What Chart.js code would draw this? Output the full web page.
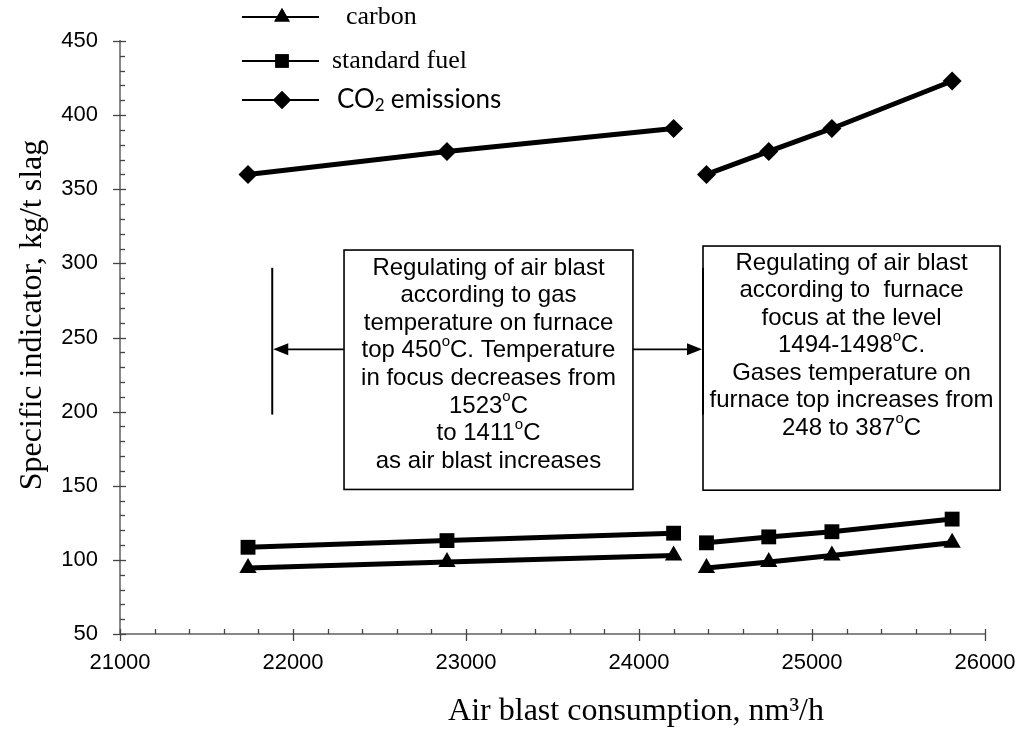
<!DOCTYPE html>
<html>
<head>
<meta charset="utf-8">
<script src="https://cdn.jsdelivr.net/npm/chart.js@4/dist/chart.umd.min.js"></script>
<style>
  html, body { margin: 0; padding: 0; background: #fff; }
  #wrap { width: 1020px; height: 747px; }
</style>
</head>
<body>
<div id="wrap"><canvas id="c" width="1020" height="747"></canvas></div>
<script>
// ---- data ----
const regime1X = [21740, 22890, 24200];
const regime2X = [24390, 24750, 25115, 25810];
const carbon1 = [94.5, 98.5, 103];
const carbon2 = [94.5, 98.5, 103, 111.5];
const fuel1 = [108.5, 113, 118];
const fuel2 = [111.5, 115.5, 119, 127.5];
const co21 = [360, 375.5, 391];
const co22 = [360, 375.5, 391, 423];
const seriesNames = ['carbon', 'standard fuel', 'CO2 emissions'];
const xTicks = [21000, 22000, 23000, 24000, 25000, 26000];
const yTicks = [50, 100, 150, 200, 250, 300, 350, 400, 450];
const leftBoxLines = [
  'Regulating of air blast',
  'according to gas',
  'temperature on furnace',
  'top 450^oC. Temperature',
  'in focus decreases from',
  '1523^oC',
  'to 1411^oC',
  'as air blast increases'
];
const rightBoxLines = [
  'Regulating of air blast',
  'according to  furnace',
  'focus at the level',
  '1494-1498^oC.',
  'Gases temperature on',
  'furnace top increases from',
  '248 to 387^oC'
];

const styles = [
  { pointStyle: 'triangle', radius: 10 },
  { pointStyle: 'rect', radius: 10.5 },
  { pointStyle: 'rectRot', radius: 9.5 }
];

function pts(xs, ys) { return xs.map((x, i) => ({ x: x, y: ys[i] })); }
function ds(xs, ys, s) {
  return {
    data: pts(xs, ys),
    borderColor: '#000', backgroundColor: '#000', borderWidth: 5,
    pointStyle: s.pointStyle, pointRadius: s.radius, pointHoverRadius: s.radius,
    pointBorderWidth: 0, pointBackgroundColor: '#000', tension: 0, fill: false
  };
}

function drawRich(ctx, line, cx, cy, size, family, align) {
  const parts = line.split('^o');
  const segs = [];
  parts.forEach((p, i) => {
    if (p) segs.push({ t: p, sup: false });
    if (i < parts.length - 1) segs.push({ t: 'o', sup: true });
  });
  const fN = size + 'px ' + family;
  const fS = Math.round(size * 0.62) + 'px ' + family;
  let w = 0;
  segs.forEach(s => { ctx.font = s.sup ? fS : fN; s.w = ctx.measureText(s.t).width; w += s.w; });
  let x = align === 'left' ? cx : cx - w / 2;
  ctx.textAlign = 'left';
  ctx.textBaseline = 'middle';
  segs.forEach(s => {
    ctx.font = s.sup ? fS : fN;
    ctx.fillText(s.t, x, s.sup ? cy - size * 0.38 : cy);
    x += s.w;
  });
}

const decor = {
  id: 'decor',
  afterDraw(chart) {
    const ctx = chart.ctx;
    const xs = chart.scales.x, ys = chart.scales.y;
    const X = v => xs.getPixelForValue(v), Y = v => ys.getPixelForValue(v);
    ctx.save();
    // ticks
    ctx.strokeStyle = '#444';
    ctx.lineWidth = 1.3;
    const ax = xs.left, ay = ys.bottom;
    for (let v = 50; v <= 450; v += 10) {
      const y = Math.round(Y(v)) + 0.5;
      ctx.beginPath();
      if (v % 50 === 0) { ctx.moveTo(ax - 7, y); ctx.lineTo(ax + 6, y); }
      else { ctx.moveTo(ax, y); ctx.lineTo(ax + 5, y); }
      ctx.stroke();
    }
    for (let v = 21000; v <= 26000; v += 200) {
      const x = Math.round(X(v)) + 0.5;
      ctx.beginPath();
      if (v % 1000 === 0) { ctx.moveTo(x, ay - 5); ctx.lineTo(x, ay + 7); }
      else { ctx.moveTo(x, ay - 5); ctx.lineTo(x, ay); }
      ctx.stroke();
    }
    // annotation boxes
    ctx.strokeStyle = '#000';
    ctx.fillStyle = '#000';
    ctx.lineWidth = 1.6;
    const lb = { l: X(22295), r: X(23965), t: Y(309), b: Y(147.5) };
    const rb = { l: X(24370), r: X(26087), t: Y(311.7), b: Y(147) };
    ctx.fillStyle = '#fff';
    [lb, rb].forEach(b => { ctx.fillRect(b.l, b.t, b.r - b.l, b.b - b.t); });
    [lb, rb].forEach(b => { ctx.strokeRect(b.l, b.t, b.r - b.l, b.b - b.t); });
    ctx.fillStyle = '#000';
    leftBoxLines.forEach((ln, i) => drawRich(ctx, ln, (lb.l + lb.r) / 2, lb.t + 18 + i * 27.6, 24, '"Liberation Sans", Arial, sans-serif'));
    rightBoxLines.forEach((ln, i) => drawRich(ctx, ln, (rb.l + rb.r) / 2, rb.t + 17 + i * 27.5, 24, '"Liberation Sans", Arial, sans-serif'));
    // vertical lines + arrows
    ctx.lineWidth = 2;
    const vl = X(21880), ya = Y(242), yt = Y(297), yb = Y(198);
    ctx.beginPath(); ctx.moveTo(vl, yt); ctx.lineTo(vl, yb); ctx.stroke();
    ctx.beginPath(); ctx.moveTo(rb.l, yt); ctx.lineTo(rb.l, yb); ctx.stroke();
    ctx.lineWidth = 1.6;
    ctx.beginPath(); ctx.moveTo(lb.l, ya); ctx.lineTo(vl + 10, ya); ctx.stroke();
    ctx.beginPath(); ctx.moveTo(vl + 1, ya); ctx.lineTo(vl + 16, ya - 6); ctx.lineTo(vl + 16, ya + 6); ctx.closePath(); ctx.fill();
    ctx.beginPath(); ctx.moveTo(lb.r, ya); ctx.lineTo(rb.l - 10, ya); ctx.stroke();
    ctx.beginPath(); ctx.moveTo(rb.l - 1, ya); ctx.lineTo(rb.l - 16, ya - 6); ctx.lineTo(rb.l - 16, ya + 6); ctx.closePath(); ctx.fill();
    // legend
    const legY = [17, 61, 100];
    const legTextX = [346, 332, 337];
    legY.forEach((y, i) => {
      ctx.strokeStyle = '#000'; ctx.lineWidth = 2;
      ctx.beginPath(); ctx.moveTo(242, y); ctx.lineTo(319, y); ctx.stroke();
      Chart.helpers.drawPoint(ctx, { pointStyle: styles[i].pointStyle, radius: i === 1 ? 9.5 : 9, borderWidth: 0, rotation: 0 }, 282, y);
      ctx.fill();
    });
    ctx.fillStyle = '#000';
    ctx.textAlign = 'left'; ctx.textBaseline = 'middle';
    ctx.font = '26px "Liberation Serif", "Times New Roman", serif';
    ctx.fillText(seriesNames[0], legTextX[0], legY[0]);
    ctx.fillText(seriesNames[1], legTextX[1], legY[1]);
    // CO2 with subscript
    ctx.font = '26px Lato, sans-serif';
    ctx.fillText('CO', legTextX[2], legY[2]);
    let w = ctx.measureText('CO').width;
    ctx.font = '17px Lato, sans-serif';
    ctx.fillText('2', legTextX[2] + w, legY[2] + 6);
    w += ctx.measureText('2').width + 6;
    ctx.font = '26px Lato, sans-serif';
    ctx.fillText('emissions', legTextX[2] + w, legY[2]);
    // axis titles
    ctx.font = '32px "Liberation Serif", "Times New Roman", serif';
    ctx.textAlign = 'center';
    ctx.fillText('Air blast consumption, nm\u00B3/h', 636, 712);
    ctx.save();
    ctx.translate(33, 315);
    ctx.rotate(-Math.PI / 2);
    ctx.fillText('Specific indicator, kg/t slag', 0, 0);
    ctx.restore();
    ctx.restore();
  }
};

new Chart(document.getElementById('c'), {
  type: 'line',
  data: {
    datasets: [
      ds(regime1X, carbon1, styles[0]), ds(regime2X, carbon2, styles[0]),
      ds(regime1X, fuel1, styles[1]), ds(regime2X, fuel2, styles[1]),
      ds(regime1X, co21, styles[2]), ds(regime2X, co22, styles[2])
    ]
  },
  options: {
    responsive: false,
    animation: false,
    layout: { padding: { top: 41, right: 35, bottom: 0, left: 0 } },
    plugins: { legend: { display: false }, tooltip: { enabled: false }, title: { display: false } },
    scales: {
      x: {
        type: 'linear', min: 21000, max: 26000,
        afterFit(s) { s.height = 113; s.paddingLeft = 0; s.paddingRight = 0; },
        afterBuildTicks(s) { s.ticks = xTicks.map(v => ({ value: v })); },
        ticks: { color: '#000', font: { size: 22, family: '"Liberation Sans", Arial, sans-serif' }, padding: 16, maxRotation: 0, autoSkip: false, callback: v => String(v) },
        grid: { display: false, drawTicks: false },
        border: { display: true, color: '#878787', width: 2 }
      },
      y: {
        type: 'linear', min: 50, max: 450,
        afterFit(s) { s.width = 120; s.paddingTop = 0; s.paddingBottom = 0; },
        afterBuildTicks(s) { s.ticks = yTicks.map(v => ({ value: v })); },
        ticks: { color: '#000', font: { size: 22, family: '"Liberation Sans", Arial, sans-serif' }, padding: 22, callback: v => String(v) },
        grid: { display: false, drawTicks: false },
        border: { display: true, color: '#878787', width: 2 }
      }
    }
  },
  plugins: [decor]
});
</script>
</body>
</html>
